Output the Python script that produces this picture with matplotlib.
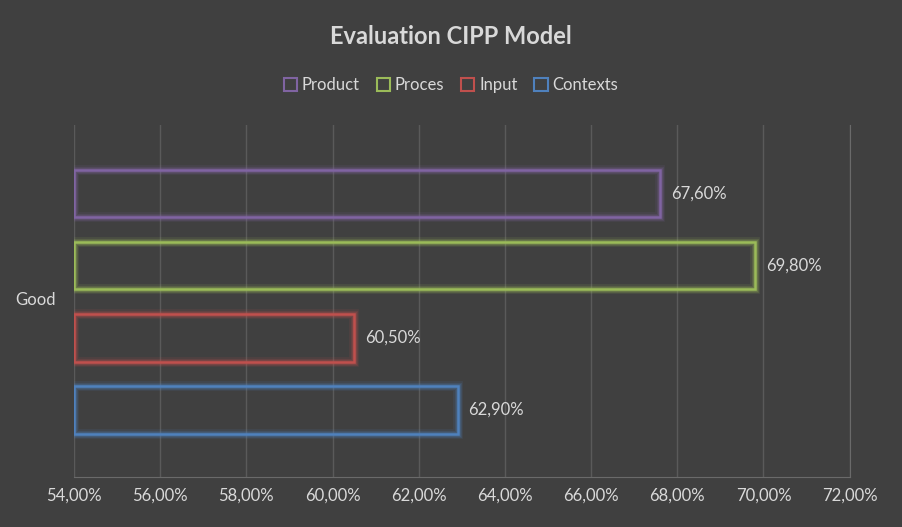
import matplotlib.pyplot as plt
from matplotlib.patches import Patch

plt.rcParams['font.family'] = ['Lato', 'DejaVu Sans']

series = ['Contexts', 'Input', 'Proces', 'Product']
values = [62.9, 60.5, 69.8, 67.6]
colors = ['#4F81BD', '#C0504D', '#9BBB59', '#8064A2']
category = 'Good'
xticks = [54, 56, 58, 60, 62, 64, 66, 68, 70, 72]

bg = '#404040'
txt = '#d9d9d9'

fig = plt.figure(figsize=(9.02, 5.27), dpi=100, facecolor=bg)
ax = fig.add_axes([0.082, 0.095, 0.86, 0.668], facecolor=bg)

ypos = range(len(series))
for y, v, c in zip(ypos, values, colors):
    # soft glow under the outline
    for lw, a in [(7, 0.12), (5, 0.18), (3.5, 0.25)]:
        ax.barh(y, v - 54, left=54, height=0.66, fill=False,
                edgecolor=c, linewidth=lw, alpha=a, zorder=2)
    ax.barh(y, v - 54, left=54, height=0.66, fill=False,
            edgecolor=c, linewidth=1.8, zorder=3)
    ax.text(v + 0.25, y, f'{v:.2f}%'.replace('.', ','), va='center',
            ha='left', color=txt, fontsize=12)

ax.set_xlim(54, 72)
ax.set_ylim(-0.93, 3.95)
ax.set_xticks(xticks)
ax.set_xticklabels([f'{t:.2f}%'.replace('.', ',') for t in xticks],
                   color=txt, fontsize=12)
ax.set_yticks([])
ax.tick_params(axis='x', length=0, pad=8)
ax.grid(axis='x', color='#5a5a5a', linewidth=1)
ax.set_axisbelow(True)
for s in ['top', 'left']:
    ax.spines[s].set_visible(False)
for s in ['right', 'bottom']:
    ax.spines[s].set_color('#6a6a6a')

fig.text(15 / 902, 1 - 300 / 527, category, color=txt, fontsize=12,
         va='center', ha='left')
fig.text(0.5, 1 - 36 / 527, 'Evaluation CIPP Model', color=txt,
         fontsize=17, fontweight='bold', ha='center', va='center')

handles = [Patch(facecolor='none', edgecolor=c, linewidth=1.5, label=s)
           for s, c in zip(series[::-1], colors[::-1])]
fig.legend(handles=handles, loc='center', bbox_to_anchor=(0.5, 1 - 85 / 527),
           ncol=4, frameon=False, fontsize=12, labelcolor=txt,
           handlelength=0.8, handleheight=0.8, handletextpad=0.3,
           columnspacing=1.0)

fig.savefig('out.png', dpi=100, facecolor=bg)
